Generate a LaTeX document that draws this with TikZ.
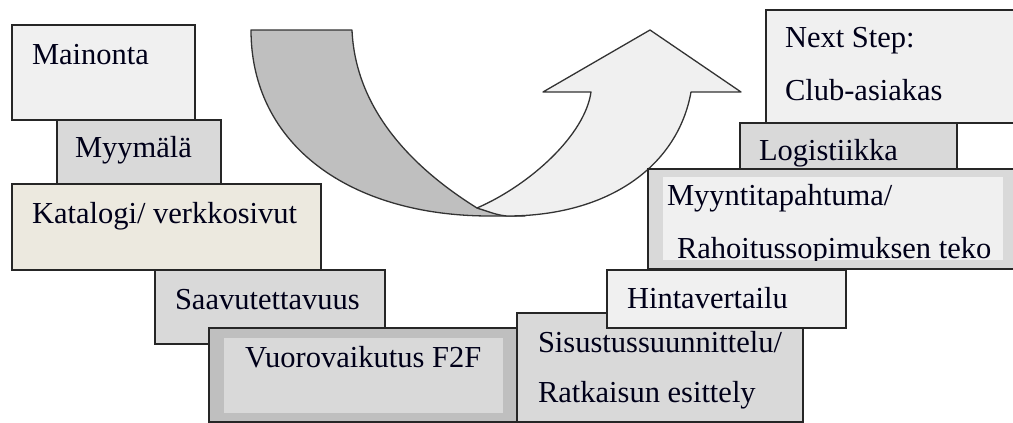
\documentclass[tikz,border=0pt]{standalone}
\usepackage{fontspec}
\setmainfont{Liberation Serif}
\begin{document}
\begin{tikzpicture}[x=1pt,y=-1pt,
  box/.style={draw=black!85,line width=1.8pt,rectangle,inner sep=0pt,outer sep=0pt,anchor=north west},
  panel/.style={rectangle,inner sep=0pt,outer sep=0pt,anchor=north west},
  lbl/.style={anchor=base west,inner sep=0pt,outer sep=0pt,text=black!90!blue,font=\fontsize{30.5}{36}\selectfont},
  band/.style={draw=black!80,line width=1.3pt,line join=round}]
\definecolor{pale}{HTML}{F0F0F0}
\definecolor{mid}{HTML}{D9D9D9}
\definecolor{dark}{HTML}{BFBFBF}
\definecolor{cream}{HTML}{ECE9DF}
\clip (0,0) rectangle (1013,423);
\fill[white] (0,0) rectangle (1013,423);

% curved up-turn arrow: back band, then front band with head
\coordinate (tailL) at (251,30);
\coordinate (tailR) at (352,30);
\coordinate (cross) at (477,208);
\coordinate (shaftL) at (591,92);
\coordinate (shaftR) at (691,92);
\coordinate (tip) at (650,30);
\coordinate (headL) at (543,92);
\coordinate (headR) at (741,92);
\path[band,fill=dark] (tailL) -- (tailR)
  .. controls (355,100) and (400,160) .. (cross)
  .. controls (495,213) and (510,216) .. (525,216)
  -- (490,216)
  .. controls (350,216) and (251,145) .. cycle;
\path[band,fill=pale] (shaftL)
  .. controls (585,135) and (530,185) .. (cross)
  .. controls (490,212) and (496,215) .. (507,216)
  .. controls (610,216) and (678,165) .. (shaftR)
  -- (headR) -- (tip) -- (headL) -- cycle;

% left stair
\node[box,fill=pale,minimum width=183pt,minimum height=95pt] (mainonta) at (12,25) {};
\node[lbl] (tmainonta) at (32,64) {Mainonta};
\node[box,fill=mid,minimum width=164pt,minimum height=64pt] (myymala) at (57,120) {};
\node[lbl] (tmyymala) at (75,157) {Myymälä};
\node[box,fill=cream,minimum width=309pt,minimum height=86pt] (katalogi) at (12,184) {};
\node[lbl] (tkatalogi) at (32,223) {Katalogi/ verkkosivut};
\node[box,fill=mid,minimum width=230pt,minimum height=74pt] (saavut) at (155,270) {};
\node[lbl] (tsaavut) at (175,309) {Saavutettavuus};
\node[box,fill=dark,minimum width=308pt,minimum height=94pt] (vuoro) at (209,328) {};
\node[panel,fill=mid,minimum width=279pt,minimum height=75pt] (vuoroin) at (224,338) {};
\node[lbl] (tvuoro) at (245,367) {Vuorovaikutus F2F};

% right stair
\node[box,fill=mid,minimum width=286pt,minimum height=109pt] (sisustus) at (517,313) {};
\node[lbl] (tsis1) at (538,352) {Sisustussuunnittelu/};
\node[lbl] (tsis2) at (538,402) {Ratkaisun esittely};
\node[box,fill=pale,minimum width=239pt,minimum height=58pt] (hinta) at (607,270) {};
\node[lbl] (thinta) at (627,308) {Hintavertailu};
\node[box,fill=pale,minimum width=264pt,minimum height=113pt] (next) at (766,10) {};
\node[lbl] (tnext1) at (785,47) {Next Step:};
\node[lbl] (tnext2) at (785,100) {Club-asiakas};
\node[box,fill=mid,minimum width=217pt,minimum height=46pt] (logist) at (740,123) {};
\node[lbl] (tlogist) at (759,160) {Logistiikka};
\node[box,fill=mid,minimum width=382pt,minimum height=100pt] (myynti) at (648,169) {};
\node[panel,fill=pale,minimum width=340pt,minimum height=83pt] (myyntiin) at (663,177) {};
\begin{scope}
  \clip (663,177) rectangle (1003,260);
  \node[lbl] (tmyy1) at (667,205) {Myyntitapahtuma/};
  \node[lbl] (tmyy2) at (677,258) {Rahoitussopimuksen teko};
\end{scope}
\end{tikzpicture}
\end{document}
